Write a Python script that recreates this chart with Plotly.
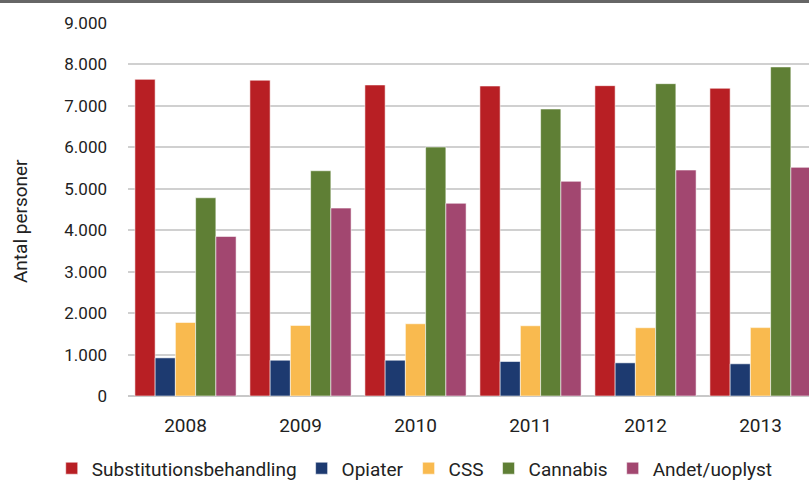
import plotly.graph_objects as go

years = ["2008", "2009", "2010", "2011", "2012", "2013"]
substitution = [7640, 7620, 7505, 7480, 7488, 7425]
opiater = [920, 863, 863, 832, 800, 777]
css = [1775, 1703, 1743, 1695, 1647, 1650]
cannabis = [4783, 5435, 6007, 6925, 7536, 7940]
andet = [3850, 4534, 4650, 5180, 5452, 5517]

series_names = ["Substitutionsbehandling", "Opiater", "CSS", "Cannabis", "Andet/uoplyst"]
series_values = [substitution, opiater, css, cannabis, andet]
colors = ["#B81F24", "#1D3A70", "#F9BA4F", "#5F7F35", "#A24770"]
y_ticks = [0, 1000, 2000, 3000, 4000, 5000, 6000, 7000, 8000, 9000]
y_tick_labels = ["0", "1.000", "2.000", "3.000", "4.000", "5.000", "6.000", "7.000", "8.000", "9.000"]

FONT = "Roboto, sans-serif"

fig = go.Figure()
for name, vals, col in zip(series_names, series_values, colors):
    fig.add_trace(go.Bar(
        x=list(range(len(years))), y=vals, name=name,
        marker=dict(color=col, line=dict(color="rgba(255,255,255,0.55)", width=1)),
    ))

fig.update_layout(
    width=809, height=481,
    barmode="group", bargap=0.12, bargroupgap=0,
    plot_bgcolor="white", paper_bgcolor="white",
    margin=dict(l=128, r=0, t=23, b=85, autoexpand=False),
    font=dict(family=FONT, size=17, color="#222"),
    showlegend=True,
    legend=dict(orientation="h", x=-0.112, xanchor="left", y=-0.194, yanchor="middle",
                font=dict(size=19), itemwidth=30, traceorder="normal", tracegroupgap=0),
    shapes=[dict(type="line", xref="paper", yref="paper", x0=-0.2, x1=1.0, y0=1.0576, y1=1.0576,
                 line=dict(color="#666666", width=3))],
    annotations=[dict(text="Antal personer", xref="paper", yref="paper",
                      x=-0.1586, y=0.469, xanchor="center", yanchor="middle",
                      textangle=-90, showarrow=False, font=dict(size=19))],
)
fig.update_xaxes(
    range=[-0.5, -0.5 + 681 / 115],
    tickmode="array", tickvals=list(range(len(years))), ticktext=years,
    showgrid=False, zeroline=False, showline=False, ticks="",
    ticklabelstandoff=16, tickfont=dict(size=19),
)
fig.update_yaxes(
    range=[0, 9000],
    tickmode="array", tickvals=y_ticks, ticktext=y_tick_labels,
    showgrid=True, gridcolor="#D0D0D0", gridwidth=1.5,
    zeroline=True, zerolinecolor="#C8C8C8", zerolinewidth=2,
    showline=False, ticks="", ticklabelstandoff=20, tickfont=dict(size=17),
)

fig.write_html("out.html", config={"displayModeBar": False},
               post_script="document.body.style.margin='0';")
